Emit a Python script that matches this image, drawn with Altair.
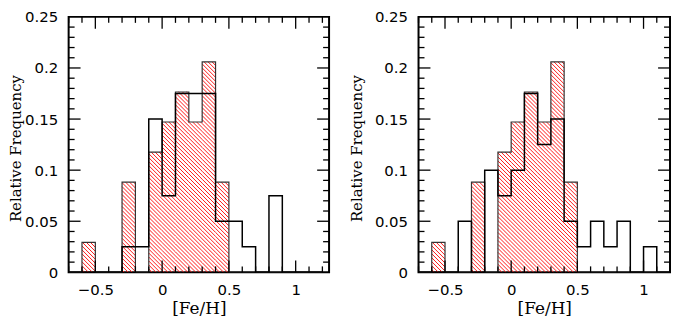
import math
import altair as alt
import pandas as pd

# ---------------- data ----------------
bin_start = [-0.7, -0.6, -0.5, -0.4, -0.3, -0.2, -0.1, 0.0, 0.1, 0.2,
             0.3, 0.4, 0.5, 0.6, 0.7, 0.8, 0.9, 1.0, 1.1]
bin_width = 0.1
red_frac = [0, 0.0294, 0, 0, 0.0882, 0, 0.1176, 0.1471, 0.1765, 0.1471,
            0.2059, 0.0882, 0, 0, 0, 0, 0, 0, 0]
left_black = [0, 0, 0, 0, 0.025, 0.025, 0.15, 0.075, 0.175, 0.175,
              0.175, 0.05, 0.05, 0.025, 0, 0.075, 0, 0, 0]
right_black = [0, 0, 0, 0.05, 0, 0.1, 0.075, 0.1, 0.175, 0.125,
               0.15, 0.05, 0.025, 0.05, 0.025, 0.05, 0, 0.025, 0]

x_label_vals = [-0.5, 0, 0.5, 1]
y_label_vals = [0, 0.05, 0.1, 0.15, 0.2, 0.25]
x_major = [-0.5, 0.0, 0.5, 1.0]
x_minor = [-0.7, -0.6, -0.4, -0.3, -0.2, -0.1, 0.1, 0.2, 0.3, 0.4,
           0.6, 0.7, 0.8, 0.9, 1.1, 1.2]
y_major = [0.05, 0.1, 0.15, 0.2]
y_minor = [0.01, 0.02, 0.03, 0.04, 0.06, 0.07, 0.08, 0.09, 0.11, 0.12,
           0.13, 0.14, 0.16, 0.17, 0.18, 0.19, 0.21, 0.22, 0.23, 0.24]

XMIN = -0.7
YMAX = 0.25
H = 257
HATCH_SPACING = 4.0


def step_df(vals):
    xs = bin_start + [bin_start[-1] + bin_width]
    ys = list(vals) + [vals[-1]]
    return pd.DataFrame({"x": xs, "y": ys, "o": list(range(len(xs)))})


def hatch_df(kx, ky):
    # diagonal hatch segments clipped to each red histogram bar
    rows = []
    for xs, h in zip(bin_start, red_frac):
        if h <= 0:
            continue
        u0 = (xs - XMIN) * kx
        u1 = (xs + bin_width - XMIN) * kx
        V = h * ky
        k0 = math.ceil(u0 / HATCH_SPACING)
        k1 = math.floor((u1 + V) / HATCH_SPACING)
        for k in range(k0, k1 + 1):
            c = k * HATCH_SPACING
            ua = max(u0, c - V)
            ub = min(u1, c)
            if ub - ua < 0.3:
                continue
            rows.append({"x": XMIN + ua / kx, "y": (c - ua) / ky,
                         "x2": XMIN + ub / kx, "y2": (c - ub) / ky})
    return pd.DataFrame(rows)


def panel(black, xmax, width, title_x):
    kx = width / (xmax - XMIN)
    ky = H / YMAX
    xsc = alt.Scale(domain=[XMIN, xmax], nice=False, zero=False)
    ysc = alt.Scale(domain=[0, YMAX], nice=False, zero=False)
    xax = alt.Axis(values=x_label_vals, format=".1~f", title="[Fe/H]",
                   labelPadding=10, titleFontSize=17, titleY=36,
                   titleBaseline="middle")
    yax = alt.Axis(values=y_label_vals, format=".2~f", title="Relative Frequency",
                   labelPadding=11, titleX=title_x, titleY=132, titleAngle=270,
                   titleBaseline="bottom", titleAlign="center")
    X = lambda f: alt.X(f, scale=xsc, axis=xax)
    Y = lambda f: alt.Y(f, scale=ysc, axis=yax)

    hatch = alt.Chart(hatch_df(kx, ky)).mark_rule(
        color="#ff1a1a", strokeWidth=1, clip=True
    ).encode(x=X("x:Q"), x2="x2:Q", y=Y("y:Q"), y2="y2:Q")

    red_step = alt.Chart(step_df(red_frac)).mark_line(
        interpolate="step-after", color="#333333", strokeWidth=1.2, clip=True
    ).encode(x=X("x:Q"), y=Y("y:Q"), order="o:Q")
    black_step = alt.Chart(step_df(black)).mark_line(
        interpolate="step-after", color="black", strokeWidth=1.5, clip=True
    ).encode(x=X("x:Q"), y=Y("y:Q"), order="o:Q")

    layers = [hatch, red_step, black_step]
    for vals, ln in ((x_major, 12), (x_minor, 6)):
        d = pd.DataFrame({"x": vals})
        layers.append(alt.Chart(d).mark_rule(color="black", strokeWidth=1.3).encode(
            x=X("x:Q"), y=alt.value(H), y2=alt.value(H - ln)))
        layers.append(alt.Chart(d).mark_rule(color="black", strokeWidth=1.3).encode(
            x=X("x:Q"), y=alt.value(0), y2=alt.value(ln)))
    for vals, ln in ((y_major, 12), (y_minor, 6)):
        d = pd.DataFrame({"y": vals})
        layers.append(alt.Chart(d).mark_rule(color="black", strokeWidth=1.3).encode(
            y=Y("y:Q"), x=alt.value(0), x2=alt.value(ln)))
        layers.append(alt.Chart(d).mark_rule(color="black", strokeWidth=1.3).encode(
            y=Y("y:Q"), x=alt.value(width), x2=alt.value(width - ln)))

    return alt.layer(*layers).properties(width=width, height=H)


left = panel(left_black, 1.25, 262, -45)
right = panel(right_black, 1.2, 253, -54)

chart = alt.hconcat(left, right, spacing=18).configure_view(
    stroke="black", strokeWidth=2
).configure_axis(
    domain=False, ticks=False, grid=False,
    labelFont="DejaVu Sans", labelFontSize=15, labelColor="black",
    titleFont="DejaVu Serif", titleFontSize=15, titleFontWeight="normal",
    titleColor="black",
).properties(padding={"left": 0, "top": 0, "right": 0, "bottom": 0})

chart.save("out.html", embed_options={"renderer": "svg", "actions": False})
